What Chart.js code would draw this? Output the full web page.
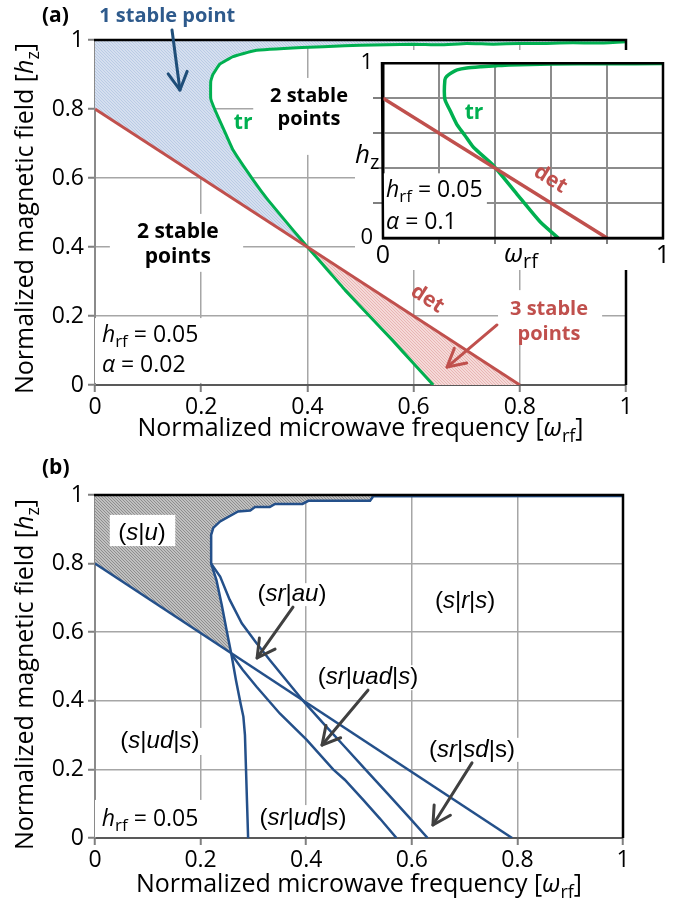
<!DOCTYPE html>
<html>
<head>
<meta charset="utf-8">
<script src="https://cdn.jsdelivr.net/npm/chart.js@4.4.0/dist/chart.umd.min.js"></script>
<style>
  html, body { margin: 0; padding: 0; background: #fff; }
  #wrap { position: relative; width: 690px; height: 904px; }
  #chartA { position: absolute; left: 0; top: 0; }
  #chartB { position: absolute; left: 0; top: 452px; }
  #inset { position: absolute; left: 355px; top: 50px; background: #fff; }
</style>
</head>
<body>
<div id="wrap">
  <canvas id="chartA" width="690" height="452"></canvas>
  <canvas id="chartB" width="690" height="452"></canvas>
  <canvas id="inset" width="315" height="220"></canvas>
</div>
<script>
// ---- data ----
const axisTicks = ['0', '0.2', '0.4', '0.6', '0.8', '1'];
const insetTicks = ['0', '', '', '', '', '1'];

// (a) alpha = 0.02 : tr boundary (from top right down to h = 0) and det line
const trW = [1.0, 0.95, 0.9, 0.85, 0.8, 0.75, 0.7, 0.65, 0.6, 0.55, 0.5, 0.47, 0.39, 0.3, 0.26, 0.235, 0.222, 0.218, 0.218, 0.226, 0.243, 0.26, 0.298, 0.326, 0.373, 0.4, 0.44, 0.471, 0.52, 0.56, 0.6, 0.637];
const trH = [0.995, 0.991, 0.992, 0.99, 0.99, 0.988, 0.99, 0.986, 0.988, 0.986, 0.985, 0.983, 0.978, 0.969, 0.952, 0.93, 0.9, 0.88, 0.83, 0.797, 0.739, 0.681, 0.594, 0.536, 0.449, 0.4, 0.33, 0.275, 0.195, 0.13, 0.062, 0];
const detW = [0, 0.8];
const detH = [0.8, 0];

// inset, alpha = 0.1
const insetTrW = [1.0, 0.8, 0.6, 0.45, 0.406, 0.35, 0.299, 0.265, 0.245, 0.228, 0.221, 0.221, 0.24, 0.263, 0.292, 0.323, 0.394, 0.477, 0.561, 0.626];
const insetTrH = [0.998, 0.997, 0.995, 0.99, 0.986, 0.98, 0.973, 0.962, 0.945, 0.925, 0.905, 0.794, 0.728, 0.652, 0.588, 0.519, 0.415, 0.254, 0.093, 0];
const insetDetW = [0, 0.8];
const insetDetH = [0.8, 0];

// (b) separatrix (top step curve + steep branch), two inner branches, straight line
const sepW = [1.0, 0.527, 0.521, 0.404, 0.393, 0.341, 0.331, 0.303, 0.294, 0.271, 0.237, 0.224, 0.220, 0.220, 0.230, 0.240, 0.250, 0.259, 0.267, 0.276, 0.281, 0.284, 0.286, 0.288, 0.290];
const sepH = [0.997, 0.996, 0.983, 0.983, 0.974, 0.974, 0.965, 0.965, 0.955, 0.952, 0.923, 0.904, 0.884, 0.800, 0.752, 0.680, 0.600, 0.530, 0.460, 0.390, 0.354, 0.300, 0.200, 0.100, 0];
const branchBW = [0.220, 0.237, 0.255, 0.278, 0.305, 0.331, 0.365, 0.398, 0.435, 0.473, 0.515, 0.555, 0.595, 0.630];
const branchBH = [0.800, 0.762, 0.695, 0.626, 0.570, 0.519, 0.455, 0.393, 0.330, 0.266, 0.195, 0.128, 0.060, 0];
const branchCW = [0.259, 0.280, 0.306, 0.350, 0.401, 0.451, 0.473, 0.508, 0.540, 0.571];
const branchCH = [0.534, 0.490, 0.441, 0.363, 0.286, 0.200, 0.170, 0.111, 0.056, 0];
const straightW = [0, 0.79];
const straightH = [0.8, 0];

// ---- helpers ----
const F = '"Open Sans", sans-serif';
const A = '"Liberation Sans", Arial, sans-serif';
const GREEN = '#00B050', RED = '#C0504D', NAVY = '#24508A';

const pts = (w, h) => w.map((x, i) => ({ x, y: h[i] }));
const lineAt = (w, h) => x => h[0] + (h[1] - h[0]) * (x - w[0]) / (w[1] - w[0]);

function P(t, size, style = '', fam = F, dy = 0) {
  return { t, font: `${style} ${size}px ${fam}`.trim(), dy };
}
// italic letters, upright brackets and bars ('S' = upright s)
function L(size, ...segs) {
  return segs.map(s => s === 'S' ? P('s', size, '', A) : P(s, size, /[()|]/.test(s) ? '' : 'italic', A));
}
function hrf(size, val) {
  return [P('h', size, 'italic'), P('rf', Math.round(size * 0.75), '', F, 5), P(' = ' + val, size)];
}

function hatch(bg, fg) {
  const c = document.createElement('canvas');
  c.width = 3; c.height = 3;
  const g = c.getContext('2d');
  g.fillStyle = bg; g.fillRect(0, 0, 3, 3);
  g.fillStyle = fg;
  g.fillRect(0, 0, 1, 1); g.fillRect(1, 1, 1, 1); g.fillRect(2, 2, 1, 1);
  return g.createPattern(c, 'repeat');
}

function drawRich(ctx, parts, x, y, align, color) {
  ctx.save();
  ctx.fillStyle = color || '#000';
  ctx.textBaseline = 'alphabetic';
  ctx.textAlign = 'left';
  let total = 0;
  const widths = parts.map(p => { ctx.font = p.font; const w = ctx.measureText(p.t).width; total += w; return w; });
  let cx = align === 'center' ? x - total / 2 : align === 'right' ? x - total : x;
  parts.forEach((p, i) => { ctx.font = p.font; ctx.fillText(p.t, cx, y + p.dy); cx += widths[i]; });
  ctx.restore();
}

function arrow(ctx, x1, y1, x2, y2, color, width, head) {
  const a = Math.atan2(y2 - y1, x2 - x1);
  ctx.save();
  ctx.strokeStyle = color; ctx.lineWidth = width; ctx.lineCap = 'round'; ctx.lineJoin = 'round';
  ctx.beginPath(); ctx.moveTo(x1, y1); ctx.lineTo(x2, y2); ctx.stroke();
  ctx.beginPath();
  ctx.moveTo(x2 - head * Math.cos(a - 0.5), y2 - head * Math.sin(a - 0.5));
  ctx.lineTo(x2, y2);
  ctx.lineTo(x2 - head * Math.cos(a + 0.5), y2 - head * Math.sin(a + 0.5));
  ctx.stroke();
  ctx.restore();
}

// annotations for each canvas, positions in data units
const notes = {};

const notePlugin = {
  id: 'notes',
  beforeDatasetsDraw(chart) {
    const n = notes[chart.canvas.id];
    if (n) drawBoxes(chart, n.boxes.filter(b => !b.over));
  },
  afterDatasetsDraw(chart) {
    const n = notes[chart.canvas.id];
    if (!n) return;
    const { ctx, chartArea: ca, scales: { x, y } } = chart;
    drawBoxes(chart, n.boxes.filter(b => b.over));
    // black frame on top and right
    ctx.save();
    ctx.strokeStyle = '#000'; ctx.lineWidth = n.frame || 2.5;
    ctx.beginPath();
    ctx.moveTo(ca.left - 1, ca.top); ctx.lineTo(ca.right, ca.top); ctx.lineTo(ca.right, ca.bottom);
    if (n.fullFrame) { ctx.lineTo(ca.left, ca.bottom); ctx.closePath(); }
    ctx.stroke();
    ctx.restore();
    n.arrows.forEach(a => arrow(ctx, x.getPixelForValue(a.from[0]), y.getPixelForValue(a.from[1]),
      x.getPixelForValue(a.to[0]), y.getPixelForValue(a.to[1]), a.color, a.width || 3, a.head || 20));
    n.labels.forEach(l => {
      const px = x.getPixelForValue(l.at[0]), py = y.getPixelForValue(l.at[1]);
      ctx.save();
      ctx.translate(px, py);
      if (l.angle) ctx.rotate(l.angle * Math.PI / 180);
      l.lines.forEach((parts, i) => drawRich(ctx, parts, 0, i * (l.lh || 24) + (l.shift || 7), l.align || 'center', l.color));
      ctx.restore();
    });
  },
  afterDraw(chart) {
    const n = notes[chart.canvas.id];
    if (!n) return;
    const { ctx, chartArea: ca } = chart;
    const cx = (ca.left + ca.right) / 2, cy = (ca.top + ca.bottom) / 2;
    if (n.xTitle) drawRich(ctx, n.xTitle.parts, cx + (n.xTitle.dx || 0), ca.bottom + n.xTitle.dy, 'center', '#000');
    if (n.yTitle) {
      ctx.save();
      ctx.translate(ca.left - n.yTitle.dx, cy + (n.yTitle.dy || 0));
      ctx.rotate(n.yTitle.rotate === false ? 0 : -Math.PI / 2);
      drawRich(ctx, n.yTitle.parts, 0, 0, n.yTitle.rotate === false ? 'left' : 'center', '#000');
      ctx.restore();
    }
    if (n.tag) drawRich(ctx, [P(n.tag, 21, 'bold')], 42, 22, 'left', '#000');
  }
};

function drawBoxes(chart, boxes) {
  const { ctx, scales: { x, y } } = chart;
  ctx.save();
  ctx.fillStyle = '#fff';
  boxes.forEach(b => {
    const l = x.getPixelForValue(b.x0), r = x.getPixelForValue(b.x1);
    const t = y.getPixelForValue(b.y1), bt = y.getPixelForValue(b.y0);
    ctx.fillRect(l, t, r - l, bt - t);
  });
  ctx.restore();
}

function lineSet(data, color, width, tension) {
  return { data, showLine: true, borderColor: color, borderWidth: width, pointRadius: 0,
           tension: tension || 0, fill: false, order: 1 };
}
function shapeSet(data, bg) {
  return { data, showLine: true, borderColor: 'transparent', borderWidth: 0, pointRadius: 0,
           backgroundColor: bg, fill: 'shape', order: 5 };
}

function axisOpts(labels, o) {
  const edge = c => c.tick && (c.tick.value <= 0 || c.tick.value >= 1);
  return {
    type: 'linear', min: 0, max: 1,
    ticks: { stepSize: 0.2, autoSkip: false, maxRotation: 0, color: '#000', padding: o.pad,
             font: { family: F, size: o.size, lineHeight: o.lh || 1.2 },
             callback: (v, i) => labels[i] },
    grid: { color: c => edge(c) ? 'transparent' : o.grid, lineWidth: o.gw || 1.5, tickLength: o.tl,
            tickColor: c => (o.hideEdgeTicks && edge(c)) ? 'transparent' : o.tick, tickWidth: o.tw || 2 },
    border: { color: o.border, width: o.bw || 2 },
    afterFit: s => { if (o.w !== undefined) s.width = o.w; if (o.h !== undefined) s.height = o.h; }
  };
}

function makeChart(id, datasets, pad, xo, yo) {
  return new Chart(document.getElementById(id), {
    type: 'scatter',
    data: { datasets },
    options: {
      responsive: false, animation: false, events: [],
      layout: { padding: pad },
      plugins: { legend: { display: false }, tooltip: { enabled: false } },
      scales: { x: xo, y: yo }
    },
    plugins: [notePlugin]
  });
}

// ---- panel (a) ----
const trPts = pts(trW, trH);
const detOf = lineAt(detW, detH);
const trAbove = trPts.filter(p => p.y >= detOf(p.x) - 1e-9);
const trBelow = trPts.filter(p => p.y <= detOf(p.x) + 1e-9);
const blueShape = [{ x: detW[0], y: detH[0] }, ...trAbove.slice().reverse(), { x: 1, y: 1 }, { x: 0, y: 1 }];
const redShape = [...trBelow, { x: detW[1], y: detH[1] }];

const titleX = [P('Normalized microwave frequency [', 25), P('ω', 25, 'italic'), P('rf', 18, '', F, 6), P(']', 25)];
const titleY = [P('Normalized magnetic field [', 25), P('h', 25, 'italic'), P('z', 18, '', F, 6), P(']', 25)];

notes.chartA = {
  tag: '(a)',
  xTitle: { parts: titleX, dy: 51 },
  yTitle: { parts: titleY, dx: 62, dy: 6 },
  boxes: [
    { x0: 0.298, x1: 0.514, y0: 0.667, y1: 0.890 },
    { x0: 0.028, x1: 0.279, y0: 0.328, y1: 0.496 },
    { x0: 0.0, x1: 0.232, y0: 0.006, y1: 0.194 },
    { x0: 0.759, x1: 0.955, y0: 0.116, y1: 0.275 }
  ],
  arrows: [
    { from: [0.145, 1.029], to: [0.160, 0.855], color: '#1F4E79' },
    { from: [0.757, 0.174], to: [0.663, 0.052], color: RED }
  ],
  labels: [
    { at: [0.136, 1.072], lines: [[P('1 stable point', 20, 'bold')]], color: '#2E5A8C' },
    { at: [0.403, 0.841], lines: [[P('2 stable', 20, 'bold')], [P('points', 20, 'bold')]], lh: 23 },
    { at: [0.156, 0.446], lines: [[P('2 stable', 21, 'bold')], [P('points', 21, 'bold')]], lh: 25 },
    { at: [0.855, 0.223], lines: [[P('3 stable', 20, 'bold')], [P('points', 20, 'bold')]], lh: 25, color: RED },
    { at: [0.279, 0.762], lines: [[P('tr', 21, 'bold')]], color: GREEN },
    { at: [0.627, 0.252], lines: [[P('det', 21, 'bold')]], color: RED, angle: 33 },
    { at: [0.013, 0.145], lines: [hrf(23, '0.05')], align: 'left' },
    { at: [0.013, 0.058], lines: [[P('α', 23, 'italic'), P(' = 0.02', 23)]], align: 'left' }
  ]
};

makeChart('chartA', [
  lineSet(pts(detW, detH), RED, 3),
  lineSet(trPts, GREEN, 3, 0.1),
  shapeSet(blueShape, hatch('#D5DFEF', '#BACBE5')),
  shapeSet(redShape, hatch('#F5D9D8', '#E8B6B4'))
], { left: 0, right: 64, top: 40, bottom: 0 },
  axisOpts(axisTicks, { size: 23, pad: 2, tl: 7, grid: '#a6a6a6', tick: '#7f7f7f', border: '#595959', h: 67 }),
  axisOpts(axisTicks, { size: 23, pad: 4, tl: 7, grid: '#a6a6a6', tick: '#7f7f7f', border: '#8a8a8a', w: 95 }));

// ---- inset ----
notes.inset = {
  fullFrame: true,
  xTitle: { parts: [P('ω', 26, 'italic'), P('rf', 20, '', F, 6)], dy: 24, dx: -2 },
  yTitle: { parts: [P('h', 26, 'italic'), P('z', 20, '', F, 6)], dx: 28, dy: 12, rotate: false },
  boxes: [{ x0: 0, x1: 0.371, y0: 0, y1: 0.37 }],
  arrows: [],
  labels: [
    { at: [0.325, 0.722], lines: [[P('tr', 21, 'bold')]], color: GREEN },
    { at: [0.60, 0.341], lines: [[P('det', 21, 'bold')]], color: RED, angle: 32 },
    { at: [0.011, 0.273], lines: [hrf(23, '0.05')], align: 'left' },
    { at: [0.011, 0.091], lines: [[P('α', 23, 'italic'), P(' = 0.1', 23)]], align: 'left' }
  ]
};

makeChart('inset', [
  lineSet(pts(insetDetW, insetDetH), RED, 3.5),
  lineSet(pts(insetTrW, insetTrH), GREEN, 3.5, 0.2)
], { left: 0, right: 7, top: 12, bottom: 0 },
  axisOpts(insetTicks, { size: 25, pad: -1, lh: 1, tl: 6, grid: '#8c8c8c', gw: 2, tick: '#7f7f7f', border: '#000', bw: 2.5, h: 32, hideEdgeTicks: true }),
  axisOpts(insetTicks, { size: 22, pad: 0, tl: 10, grid: '#8c8c8c', gw: 2, tick: '#7f7f7f', border: '#000', bw: 2.5, w: 28, hideEdgeTicks: true }));

// ---- panel (b) ----
const sepPts = pts(sepW, sepH);
const strOf = lineAt(straightW, straightH);
const k = sepPts.findIndex(p => p.y < strOf(p.x));
const p1 = sepPts[k - 1], p2 = sepPts[k];
const d1 = p1.y - strOf(p1.x), d2 = p2.y - strOf(p2.x);
const t = d1 / (d1 - d2);
const cross = { x: p1.x + t * (p2.x - p1.x), y: p1.y + t * (p2.y - p1.y) };
const grayShape = [{ x: straightW[0], y: straightH[0] }, cross, ...sepPts.slice(0, k).reverse(), { x: 1, y: 1 }, { x: 0, y: 1 }];

notes.chartB = {
  tag: '(b)',
  xTitle: { parts: titleX, dy: 54 },
  yTitle: { parts: titleY, dx: 62, dy: 8 },
  boxes: [
    { x0: 0.028, x1: 0.152, y0: 0.851, y1: 0.942, over: true },
    { x0: 0.303, x1: 0.445, y0: 0.676, y1: 0.743 },
    { x0: 0.417, x1: 0.619, y0: 0.431, y1: 0.504 },
    { x0: 0.625, x1: 0.805, y0: 0.222, y1: 0.292 },
    { x0: 0.634, x1: 0.767, y0: 0.653, y1: 0.729 },
    { x0: 0.038, x1: 0.208, y0: 0.242, y1: 0.321 },
    { x0: 0.0, x1: 0.208, y0: 0.003, y1: 0.111 },
    { x0: 0.303, x1: 0.483, y0: 0.006, y1: 0.096 }
  ],
  arrows: [
    { from: [0.375, 0.673], to: [0.307, 0.525], color: '#404040' },
    { from: [0.517, 0.431], to: [0.430, 0.271], color: '#404040' },
    { from: [0.714, 0.219], to: [0.640, 0.038], color: '#404040' }
  ],
  labels: [
    { at: [0.089, 0.889], lines: [L(24, '(', 's', '|', 'u', ')')] },
    { at: [0.373, 0.711], lines: [L(24, '(', 'sr', '|', 'au', ')')] },
    { at: [0.517, 0.469], lines: [L(24, '(', 'sr', '|', 'uad', '|', 's', ')')] },
    { at: [0.714, 0.257], lines: [L(24, '(', 'sr', '|', 'sd', '|', 'S', ')')] },
    { at: [0.701, 0.691], lines: [L(24, '(', 's', '|', 'r', '|', 's', ')')] },
    { at: [0.123, 0.283], lines: [L(24, '(', 's', '|', 'ud', '|', 's', ')')] },
    { at: [0.394, 0.058], lines: [L(24, '(', 'sr', '|', 'ud', '|', 's', ')')] },
    { at: [0.013, 0.055], lines: [hrf(23, '0.05')], align: 'left' }
  ]
};

makeChart('chartB', [
  lineSet(pts(straightW, straightH), NAVY, 2.5),
  lineSet(sepPts, NAVY, 2.5),
  lineSet(pts(branchBW, branchBH), NAVY, 2.5),
  lineSet(pts(branchCW, branchCH), NAVY, 2.5),
  shapeSet(grayShape, hatch('#C0C0C0', '#8E8E8E'))
], { left: 0, right: 67, top: 43, bottom: 0 },
  axisOpts(axisTicks, { size: 23, pad: 2, tl: 7, grid: '#a6a6a6', tick: '#7f7f7f', border: '#595959', h: 66 }),
  axisOpts(axisTicks, { size: 23, pad: 4, tl: 7, grid: '#a6a6a6', tick: '#7f7f7f', border: '#8a8a8a', w: 95 }));
</script>
</body>
</html>
